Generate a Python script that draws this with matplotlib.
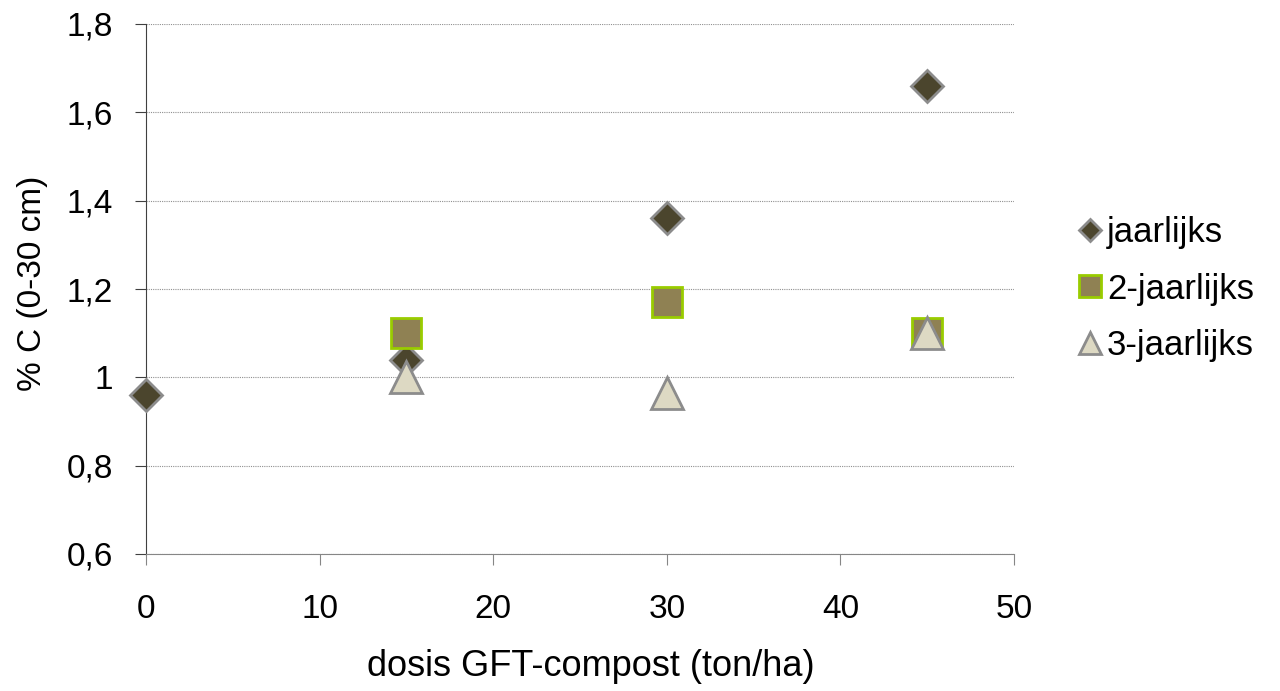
import matplotlib
matplotlib.use('Agg')
from matplotlib import pyplot as plt
from matplotlib.ticker import FuncFormatter

plt.rcParams['font.family'] = ['Liberation Sans', 'DejaVu Sans']

# dosis GFT-compost (ton/ha) and % C per series
x_jaar = [0, 15, 30, 45]
y_jaar = [0.96, 1.04, 1.36, 1.66]
x_2jaar = [15, 30, 45]
y_2jaar = [1.10, 1.17, 1.10]
x_3jaar = [15, 30, 45]
y_3jaar = [1.00, 0.965, 1.10]

fig = plt.figure(figsize=(12.8, 6.91), dpi=100)
ax = fig.add_axes([146/1280, 1 - 554/691, (1014-146)/1280, (554-24)/691])

ax.plot(x_jaar, y_jaar, 'D', ms=16, mfc='#4b452d', mec='#8c8c8c', mew=2,
        label='jaarlijks', zorder=3)
ax.plot(x_2jaar, y_2jaar, 's', ms=22, mfc='#8f8153', mec='#99cc00', mew=2,
        label='2-jaarlijks', zorder=4)
ax.plot(x_3jaar, y_3jaar, '^', ms=23, mfc='#ddd9c3', mec='#8c8c8c', mew=2,
        label='3-jaarlijks', zorder=5)

ax.set_xlim(0, 50)
ax.set_ylim(0.6, 1.8)
ax.set_xticks(range(0, 51, 10))
ax.set_yticks([0.6, 0.8, 1.0, 1.2, 1.4, 1.6, 1.8])
ax.yaxis.set_major_formatter(FuncFormatter(lambda v, p: ('%g' % round(v, 1)).replace('.', ',')))
ax.yaxis.grid(True, color='#909090', linestyle=(0, (1, 1)), linewidth=0.8)
ax.set_axisbelow(True)
for s in ['top', 'right']:
    ax.spines[s].set_visible(False)
ax.spines['left'].set_color('#404040')
ax.spines['bottom'].set_color('#868686')
ax.tick_params(axis='both', labelsize=24, length=8, direction='out')
ax.tick_params(axis='x', pad=21, color='#868686')
ax.tick_params(axis='y', pad=16, color='#404040')
ax.set_xlabel('dosis GFT-compost (ton/ha)', fontsize=26)
ax.set_ylabel('% C (0-30 cm)', fontsize=24)
ax.xaxis.set_label_coords(0.513, -0.179)
ax.yaxis.set_label_coords(-0.113, 0.51)

for line in ax.get_lines():
    line.set_clip_on(False)

leg = fig.legend(loc='center left', bbox_to_anchor=(1041/1280, 1 - 289/691),
                 frameon=False, fontsize=25, handletextpad=0.0, labelspacing=0.67,
                 markerscale=0.7, handlelength=1.0)

fig.savefig('out.png', dpi=100)
